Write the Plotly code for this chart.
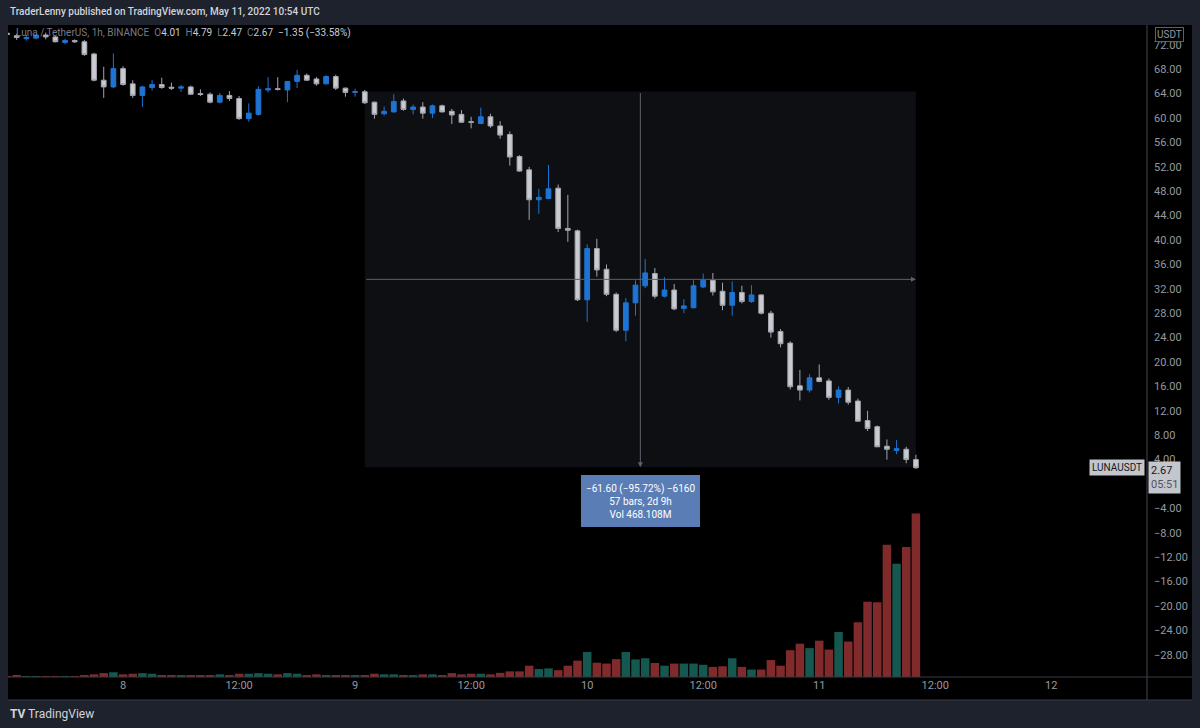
import plotly.graph_objects as go
import pandas as pd

# ---------------- data ----------------
times = pd.date_range("2022-05-07 12:00", "2022-05-11 10:00", freq="h")

open_ = [73.9, 73.5, 73.0, 73.1, 73.6, 73.3, 72.4, 72.7, 72.5, 70.5, 66.2, 65.1,
         68.1, 65.6, 63.7, 65.0, 65.5, 65.05, 64.9, 65.1, 64.0, 63.9, 62.6, 63.7,
         63.2, 59.9, 60.6, 64.6, 64.8, 64.6, 66.0, 67.0, 66.4, 65.6, 66.8, 64.9,
         64.2, 64.3, 62.6, 60.7, 61.0, 62.8, 61.4, 61.8, 60.8, 62.0, 61.1, 60.6,
         59.4, 59.1, 60.2, 58.7, 57.3, 53.7, 51.5, 46.6, 46.8, 48.5, 41.9, 41.5,
         30.2, 38.6, 35.2, 31.1, 25.2, 29.7, 32.5, 34.5, 30.8, 31.8, 28.8, 28.9,
         32.3, 33.4, 31.6, 29.3, 31.4, 29.9, 31.0, 28.0, 25.0, 23.1, 16.1, 15.4,
         17.4, 16.9, 14.2, 15.4, 13.6, 10.4, 9.4, 6.2, 5.5, 5.7, 4.01]
high = [74.2, 73.8, 73.6, 73.7, 74.0, 73.4, 73.0, 72.9, 72.8, 70.7, 68.4, 70.6,
        68.5, 66.2, 65.3, 66.2, 66.6, 65.8, 65.4, 65.3, 64.7, 64.2, 64.1, 64.4,
        63.6, 62.4, 65.2, 66.7, 66.7, 66.0, 67.9, 67.3, 66.7, 67.0, 67.1, 65.0,
        64.8, 64.6, 62.7, 61.9, 63.9, 63.2, 62.2, 62.6, 62.2, 62.2, 61.5, 61.3,
        60.2, 61.7, 60.7, 59.5, 57.8, 53.9, 52.0, 48.4, 52.3, 49.1, 47.4, 41.7,
        39.3, 40.2, 36.0, 31.4, 30.5, 33.4, 36.9, 35.4, 33.9, 32.8, 30.3, 33.4,
        34.5, 34.6, 33.0, 33.2, 32.5, 32.6, 31.1, 28.4, 25.4, 23.4, 18.7, 18.0,
        19.6, 17.3, 16.0, 15.9, 14.0, 12.0, 9.6, 7.3, 7.2, 6.1, 4.79]
low = [73.5, 72.8, 72.7, 72.9, 72.9, 72.4, 72.1, 72.3, 70.2, 66.0, 63.3, 64.9,
       65.3, 63.3, 61.8, 64.5, 64.8, 64.6, 64.3, 63.8, 63.6, 62.4, 62.4, 62.8,
       59.7, 59.4, 60.4, 64.2, 64.5, 62.6, 64.9, 66.1, 65.3, 65.5, 64.6, 63.5,
       63.5, 62.3, 59.9, 60.4, 60.9, 61.2, 60.6, 59.9, 60.0, 60.9, 59.0, 59.2,
       58.3, 59.0, 58.4, 56.6, 52.2, 51.2, 43.3, 44.3, 46.7, 41.3, 39.7, 30.0,
       26.6, 34.0, 30.8, 24.9, 23.4, 27.6, 32.1, 30.4, 30.6, 28.5, 28.0, 28.8,
       32.1, 30.9, 28.5, 27.6, 29.6, 29.7, 27.8, 24.0, 22.4, 15.5, 13.7, 15.0,
       16.7, 13.8, 13.2, 13.0, 10.3, 8.7, 6.1, 4.0, 4.9, 3.4, 2.47]
close = [73.7, 73.2, 73.2, 73.6, 73.3, 72.5, 72.7, 72.5, 70.4, 66.2, 65.1, 68.1,
         65.5, 63.7, 65.1, 65.5, 65.0, 64.9, 65.1, 63.9, 63.85, 62.6, 63.7, 63.2,
         59.9, 60.8, 64.7, 64.8, 64.7, 66.0, 67.0, 66.2, 65.6, 66.8, 64.9, 64.2,
         64.35, 62.5, 60.6, 61.1, 62.7, 61.4, 61.8, 60.8, 62.0, 61.0, 60.5, 59.3,
         59.3, 60.2, 58.7, 57.2, 53.6, 51.3, 46.6, 47.0, 48.4, 41.9, 41.6, 30.2,
         38.6, 35.1, 31.1, 25.2, 29.7, 32.6, 34.6, 30.8, 31.8, 28.7, 29.2, 32.5,
         33.4, 31.5, 29.3, 31.4, 29.9, 31.0, 28.0, 24.9, 23.0, 15.95, 15.4, 17.4,
         16.8, 14.2, 15.4, 13.4, 10.3, 9.1, 6.1, 5.7, 5.8, 4.01, 2.67]
volume_m = [0.3, 0.6, 0.25, 0.25, 0.25, 0.25, 0.25, 0.25, 0.6, 0.9, 1.3, 1.6,
            0.9, 1.1, 1.3, 1.1, 0.6, 0.6, 0.6, 0.6, 0.6, 0.6, 0.9, 0.6,
            1.1, 1.1, 1.3, 1.1, 0.9, 1.3, 1.1, 0.6, 0.9, 0.6, 0.6, 0.6,
            0.6, 0.6, 1.1, 0.9, 0.9, 0.6, 0.6, 0.9, 0.9, 0.6, 1.3, 0.9,
            1.1, 1.1, 0.9, 1.4, 1.9, 1.9, 3.8, 2.7, 2.9, 2.3, 3.8, 5.5,
            8.4, 4.8, 4.5, 6.0, 8.4, 5.9, 6.3, 4.7, 3.8, 4.5, 4.5, 4.5,
            4.1, 3.4, 3.6, 6.3, 3.4, 2.5, 2.5, 5.7, 3.8, 9.0, 11.2, 9.7,
            12.2, 9.2, 15.1, 11.9, 18.4, 25.3, 25.1, 44.4, 38.0, 43.7, 54.9]

# last bar change as shown in the legend
last_change = -1.35
last_change_pct = -33.58

price_ticks = [-28, -24, -20, -16, -12, -8, -4, 0, 4, 8, 12, 16, 20, 24, 28, 32,
               36, 40, 44, 48, 52, 56, 60, 64, 68, 72]
x_tick_dates = ["2022-05-08", "2022-05-08 12:00", "2022-05-09", "2022-05-09 12:00",
                "2022-05-10", "2022-05-10 12:00", "2022-05-11", "2022-05-11 12:00",
                "2022-05-12"]
x_tick_text = ["8", "12:00", "9", "12:00", "10", "12:00", "11", "12:00", "12"]

# measurement tool
measure_start_idx = 37          # 2022-05-09 01:00
measure_start_price = 64.35
measure_change = -61.60
measure_pct = -95.72
measure_ticks = -6160
measure_bars = 57
measure_span = "2d 9h"
measure_vol = "468.108M"

# ---------------- style ----------------
FRAME = "#1e222d"
BLUE = "#1e74d2"
GRAY = "#c9cbd1"
GRAY_LINE = "#a3a6ae"
VOL_UP = "#145850"
VOL_DN = "#802a2c"
TXT = "#9598a1"
FONT = "Roboto"

vol_colors = [VOL_UP if c >= o else VOL_DN for o, c in zip(open_, close)]

fig = go.Figure()
fig.add_trace(go.Bar(x=times, y=volume_m, marker_color=vol_colors, marker_line_width=0,
                     yaxis="y2", hoverinfo="skip", showlegend=False))
fig.add_trace(go.Candlestick(
    x=times, open=open_, high=high, low=low, close=close,
    increasing=dict(fillcolor=BLUE, line=dict(color=BLUE, width=1)),
    decreasing=dict(fillcolor=GRAY, line=dict(color=GRAY_LINE, width=1)),
    whiskerwidth=0, hoverinfo="skip", showlegend=False))

end_price = measure_start_price + measure_change
mid_price = (measure_start_price + end_price) / 2
t0 = times[measure_start_idx]
t1 = times[-1]
tmid = t0 + (t1 - t0) / 2

# pixel helpers for paper coords (plot area x 8..1147, y 25..677)
def px(xp):
    return (xp - 8) / 1139.0

def py(yp):
    return (677 - yp) / 652.0

shapes = [
    dict(type="rect", xref="paper", yref="paper", x0=0, x1=px(1192), y0=py(700), y1=1,
         fillcolor="#000000", line=dict(width=0), layer="below"),
    dict(type="rect", xref="x", yref="y", x0=t0, x1=t1, y0=end_price, y1=measure_start_price,
         fillcolor="#0e0f12", line=dict(width=0), layer="below"),
    dict(type="line", xref="paper", yref="paper", x0=0, x1=px(1192), y0=0, y1=0,
         line=dict(color="#363a45", width=1)),
    dict(type="line", xref="paper", yref="paper", x0=0, x1=px(1192), y0=py(700), y1=py(700),
         line=dict(color="#363a45", width=1)),
    dict(type="line", xref="paper", yref="paper", x0=1, x1=1, y0=py(700), y1=1,
         line=dict(color="#434651", width=1)),
]

def fmt(v):
    s = f"{abs(v):.2f}"
    return ("\u2212" + s) if v < 0 else s

annotations = [
    # crosshair arrows of the measure tool
    dict(x=tmid, y=end_price, ax=tmid, ay=measure_start_price, xref="x", yref="y",
         axref="x", ayref="y", text="", showarrow=True, arrowhead=2, arrowsize=1,
         arrowwidth=1, arrowcolor="#5d606b"),
    dict(x=t1, y=mid_price, ax=t0, ay=mid_price, xref="x", yref="y",
         axref="x", ayref="y", text="", showarrow=True, arrowhead=2, arrowsize=1,
         arrowwidth=1, arrowcolor="#5d606b"),
    # measure label
    dict(x=tmid, y=py(501), xref="x", yref="paper", showarrow=False,
         text=(f"{fmt(measure_change)} ({fmt(measure_pct)}%) \u2212{abs(measure_ticks)}<br>"
               f"{measure_bars} bars, {measure_span}<br>Vol {measure_vol}"),
         font=dict(family=FONT, size=10, color="#ffffff"), bgcolor="#5b7db6",
         bordercolor="#5b7db6", borderwidth=1, borderpad=4, height=42,
         align="center", xanchor="center", yanchor="middle"),
    # header
    dict(x=0, y=py(12), xref="paper", yref="paper", xanchor="left", yanchor="middle",
         showarrow=False, text="TraderLenny published on TradingView.com, May 11, 2022 10:54 UTC",
         font=dict(family=FONT, size=10, color="#d1d4dc", weight=500)),
    # legend line
    dict(x=px(14), y=py(33), xref="paper", yref="paper", xanchor="left", yanchor="middle",
         showarrow=False,
         text=("<span style='color:#787b86'>Luna / TetherUS, 1h, BINANCE</span>  "
               f"<span style='color:#787b86'>O</span>{open_[-1]:.2f}  "
               f"<span style='color:#787b86'>H</span>{high[-1]:.2f}  "
               f"<span style='color:#787b86'>L</span>{low[-1]:.2f}  "
               f"<span style='color:#787b86'>C</span>{close[-1]:.2f}  "
               f"{fmt(last_change)} ({fmt(last_change_pct)}%)"),
         font=dict(family=FONT, size=10, color="#c9cbd1")),
    # USDT unit label
    dict(x=px(1169), y=py(34), xref="paper", yref="paper", xanchor="center", yanchor="middle",
         showarrow=False, text="USDT", font=dict(family=FONT, size=10, color=TXT),
         bordercolor="#5d606b", borderwidth=1, borderpad=1, bgcolor="#000000"),
    # symbol label
    dict(x=px(1145), y=close[-1], xref="paper", yref="y", xanchor="right", yanchor="middle",
         showarrow=False, text="LUNAUSDT", font=dict(family=FONT, size=10, color="#131722"),
         bgcolor="#c3c6cd", borderpad=2),
    # last price label
    dict(x=px(1148), y=close[-1], xref="paper", yref="y", xanchor="left", yanchor="top",
         yshift=7, showarrow=False,
         text=f"{close[-1]:.2f}<br><span style='color:#50535e'>05:51</span>",
         font=dict(family=FONT, size=11, color="#131722"), bgcolor="#c3c6cd",
         borderpad=2, align="left"),
    # footer
    dict(x=px(8), y=py(714), xref="paper", yref="paper", xanchor="left", yanchor="middle",
         showarrow=False, text="<b>TV</b> TradingView",
         font=dict(family=FONT, size=12, color="#d1d4dc")),
]

fig.update_layout(
    width=1200, height=728,
    margin=dict(l=8, r=53, t=25, b=51),
    paper_bgcolor=FRAME, plot_bgcolor="#000000",
    showlegend=False, hovermode=False, bargap=0.12,
    font=dict(family=FONT, color=TXT, size=11),
    xaxis=dict(range=["2022-05-07 12:06", "2022-05-12 09:54"], showgrid=False,
               zeroline=False, showline=False, ticks="", tickvals=x_tick_dates,
               ticktext=x_tick_text, tickfont=dict(family=FONT, size=11, color=TXT),
               rangeslider=dict(visible=False), fixedrange=True),
    yaxis=dict(side="right", range=[-31.64, 75.25], showgrid=False, zeroline=False,
               showline=False, ticks="", tickvals=price_ticks,
               ticktext=[fmt(v) if v != 0 else "" for v in price_ticks],
               tickfont=dict(family=FONT, size=11, color=TXT), ticklabelstandoff=6),
    yaxis2=dict(overlaying="y", range=[0, 219], visible=False),
    shapes=shapes,
    annotations=annotations,
)

fig.write_html("out.html", config={"displayModeBar": False})
